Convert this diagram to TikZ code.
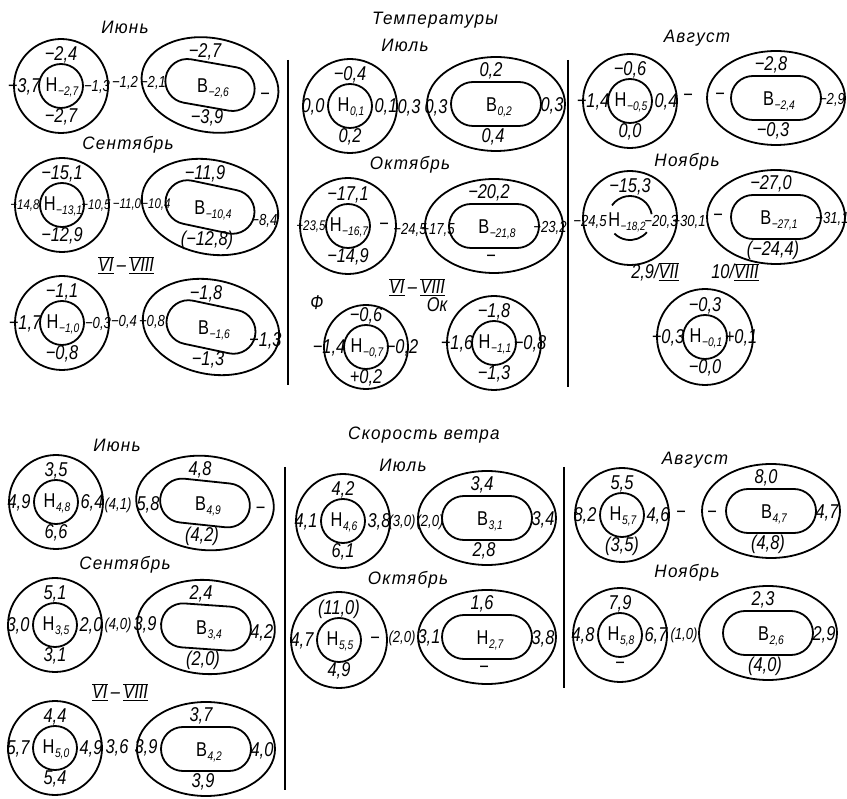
\documentclass[tikz,border=0pt]{standalone}
\usepackage{fontspec}
\setmainfont[FakeStretch=0.82]{Liberation Sans}
\newfontfamily\ttlfont[FakeStretch=0.95,LetterSpace=7]{Liberation Sans}
\usepackage{tikz}
\usetikzlibrary{positioning}

\newcommand{\lv}[2]{#1\kern0.5pt\raisebox{-4pt}{\fontsize{12.5}{12.5}\selectfont\itshape #2}}
\newcommand{\tight}[1]{{\fontsize{16}{16}\selectfont #1}}
\newcommand{\tighter}[1]{{\fontsize{14}{14}\selectfont #1}}
\newcommand{\romb}[1]{$\underline{\overline{\hbox{#1}}}$}

% name, x, y, top, left, sub, right, bottom, outer radius
\newcommand{\lowring}[9]{%
  \draw[ring] (#2,#3) circle[radius=#9];
  \draw[ring] (#2,#3) circle[radius=22];
  \node[lbl] (#1-t) at (#2,#3-31) {#4};
  \node[lbl] (#1-l) at (#2-37,#3+1) {#5};
  \node[lvl] (#1-c) at (#2+1,#3+1) {\lv{Н}{#6}};
  \node[lbl] (#1-r) at (#2+36,#3+1) {#7};
  \node[lbl] (#1-b) at (#2,#3+31) {#8};
}
% name, x, y, letter, sub, top, right, bottom, tilt
\newcommand{\highring}[9]{%
  \begin{scope}[rotate around={#9:(#2,#3)}]
    \draw[ring] (#2,#3) ellipse[x radius=69, y radius=47];
    \draw[ring,rounded corners=22pt] (#2-45,#3-22) rectangle (#2+45,#3+22);
    \node[lbl] (#1-r) at (#2+56,#3+2) {#7};
  \end{scope}
  \node[lbl] (#1-t) at (#2-5,#3-33) {#6};
  \node[lvl] (#1-c) at (#2+3,#3+3) {\lv{#4}{#5}};
  \node[lbl] (#1-b) at (#2-3,#3+33) {#8};
}

\begin{document}
\begin{tikzpicture}[x=1pt,y=-1pt,
  ring/.style={draw=black,line width=1.8pt},
  lbl/.style={font=\fontsize{20}{20}\selectfont\itshape,inner sep=0pt},
  ttl/.style={font=\fontsize{18}{18}\selectfont\ttlfont\itshape,inner sep=0pt},
  lvl/.style={font=\fontsize{20}{20}\selectfont,inner sep=0pt},
  sep/.style={draw=black,line width=1.4pt}
]
\useasboundingbox (0,0) rectangle (847,799);

% Температуры
\node[ttl] (ttl1) at (435,20) {Температуры};
\node[ttl] (tJun) at (125,27) {Июнь};
\node[ttl] (tJul) at (405,45) {Июль};
\node[ttl] (tAug) at (697,38) {Август};
\node[ttl] (tSep) at (128,145) {Сентябрь};
\node[ttl] (tOct) at (410,165) {Октябрь};
\node[ttl] (tNov) at (687,162) {Ноябрь};
\node[lbl] (tSum1) at (126,265) {\romb{VI}\,–\,\romb{VIII}};
\node[lbl] (tSum2) at (417,287) {\romb{VI}\,–\,\romb{VIII}};
\node[lbl] (tPhi) at (317,303) {Ф};
\node[lbl] (tOk) at (437,305) {Ок};
\node[lbl] (tDay1) at (655,272) {2,9/\romb{VII}};
\node[lbl] (tDay2) at (735,272) {10/\romb{VIII}};

\draw[sep] (288,60) -- (288,385);
\draw[sep] (568,60) -- (568,387);

\lowring{tJunN}{61}{86}{−2,4}{−3,7}{−2,7}{\tight{−1,3}}{−2,7}{47}
\highring{tJunB}{210}{85}{В}{−2,6}{−2,7}{−}{−3,9}{-10}
\node[lbl] (tJunM) at (125,83) {\tight{−1,2}};
\node[lbl] (tJunE) at (153,83) {\tight{−2,1}};

\lowring{tSepN}{62}{205}{−15,1}{\tighter{−14,8}}{−13,1}{\tighter{−10,5}\kern4pt}{−12,9}{47}
\highring{tSepB}{210}{207}{В}{−10,4}{−11,9}{\tight{−8,4}}{(−12,8)}{-12}
\node[lbl] (tSepM) at (127,205) {\tighter{−11,0}};
\node[lbl] (tSepE) at (156,205) {\tighter{−10,4}};

\lowring{tSumN}{62}{323}{−1,1}{−1,7}{−1,0}{\tight{−0,3}}{−0,8}{47}
\highring{tSumB}{211}{327}{В}{−1,6}{−1,8}{−1,3}{−1,3}{-12}
\node[lbl] (tSumM) at (124,322) {\tight{−0,4}};
\node[lbl] (tSumE) at (152,322) {\tight{−0,8}};

\lowring{tJulN}{350}{106}{−0,4}{0,0}{0,1}{0,1}{0,2}{47}
\highring{tJulB}{496}{104}{В}{0,2}{0,2}{0,3}{0,4}{0}
\node[lbl] (tJulM) at (409,108) {0,3};
\node[lbl] (tJulE) at (436,108) {0,3};

\lowring{tOctN}{348}{226}{−17,1}{\tighter{−23,5}}{−16,7}{−}{−14,9}{48}
\highring{tOctB}{494}{226}{В}{−21,8}{−20,2}{\tight{−23,2}}{−}{0}
\node[lbl] (tOctM) at (410,230) {\tight{−24,5}};
\node[lbl] (tOctE) at (438,230) {\tight{−17,5}};

\lowring{tPhiN}{366}{347}{−0,6}{−1,4}{−0,7}{−0,2}{+0,2}{42}
\lowring{tOkN}{494}{343}{−1,8}{−1,6}{−1,1}{−0,8}{−1,3}{47}

\lowring{tAugN}{630}{101}{−0,6}{−1,4}{−0,5}{0,4}{0,0}{47}
\highring{tAugB}{776}{98}{В}{−2,4}{−2,8}{\tight{−2,9}}{−0,3}{0}
\node[lbl] (tAugM) at (688,98) {−};
\node[lbl] (tAugE) at (720,97) {−};

\draw[ring] (630,218) circle[radius=47];
\draw[ring] (630,218) ++(215:22) arc[start angle=215,end angle=350,radius=22];
\draw[ring] (630,218) ++(40:22) arc[start angle=40,end angle=135,radius=22];
\node[lbl] (tNovN-t) at (630,187) {−15,3};
\node[lbl] (tNovN-l) at (590,222) {\tight{−24,5}};
\node[lvl] (tNovN-c) at (627,222) {Н\kern0.5pt\raisebox{-4pt}{\fontsize{12}{12}\selectfont\itshape −18,2}};
\node[lbl] (tNovN-r) at (661,222) {\tight{−20,3}};
\node[lbl] (tNovM) at (689,222) {\tight{−30,1}};
\node[lbl] (tNovE) at (718,218) {−};
\highring{tNovB}{776}{217}{В}{−27,1}{−27,0}{\tight{−31,1}}{(−24,4)}{0}

\lowring{tDayN}{705}{337}{−0,3}{−0,3}{−0,1}{+0,1}{−0,0}{48}

% Скорость ветра
\node[ttl] (ttl2) at (424,435) {Скорость ветра};
\node[ttl] (bJun) at (117,445) {Июнь};
\node[ttl] (bJul) at (403,465) {Июль};
\node[ttl] (bAug) at (695,460) {Август};
\node[ttl] (bSep) at (125,565) {Сентябрь};
\node[ttl] (bOct) at (408,580) {Октябрь};
\node[ttl] (bNov) at (687,573) {Ноябрь};
\node[lbl] (bSum) at (120,692) {\romb{VI}\,–\,\romb{VIII}};

\draw[sep] (285,467) -- (285,790);
\draw[sep] (564,467) -- (564,688);

\lowring{bJunN}{56}{502}{3,5}{4,9}{4,8}{6,4}{6,6}{47}
\highring{bJunB}{205}{503}{В}{4,9}{4,8}{−}{(4,2)}{-6}
\node[lbl] (bJunM) at (118,505) {\tight{(4,1)}};
\node[lbl] (bJunE) at (148,505) {5,8};

\lowring{bSepN}{55}{625}{5,1}{3,0}{3,5}{2,0}{3,1}{47}
\highring{bSepB}{206}{627}{В}{3,4}{2,4}{4,2}{(2,0)}{-4}
\node[lbl] (bSepM) at (118,625) {\tight{(4,0)}};
\node[lbl] (bSepE) at (145,625) {3,9};

\lowring{bSumN}{55}{748}{4,4}{5,7}{5,0}{4,9}{5,4}{47}
\highring{bSumB}{206}{749}{В}{4,2}{3,7}{4,0}{3,9}{0}
\node[lbl] (bSumM) at (117,748) {3,6};
\node[lbl] (bSumE) at (146,748) {3,9};

\lowring{bJulN}{343}{521}{4,2}{4,1}{4,6}{3,8}{6,1}{47}
\highring{bJulB}{487}{518}{В}{3,1}{3,4}{3,4}{2,8}{0}
\node[lbl] (bJulM) at (402,522) {\tight{(3,0)}};
\node[lbl] (bJulE) at (430,522) {\tight{(2,0)}};

\lowring{bOctN}{339}{640}{(11,0)}{4,7}{5,5}{−}{4,9}{48}
\highring{bOctB}{487}{637}{Н}{2,7}{1,6}{3,8}{−}{0}
\node[lbl] (bOctM) at (402,638) {\tight{(2,0)}};
\node[lbl] (bOctE) at (429,638) {3,1};

\lowring{bAugN}{622}{515}{5,5}{8,2}{5,7}{4,6}{(3,5)}{47}
\highring{bAugB}{771}{511}{В}{4,7}{8,0}{4,7}{(4,8)}{0}
\node[lbl] (bAugM) at (681,515) {−};
\node[lbl] (bAugE) at (712,515) {−};

\lowring{bNovN}{620}{635}{7,9}{4,8}{5,8}{6,7}{−}{47}
\highring{bNovB}{768}{633}{В}{2,6}{2,3}{2,9}{(4,0)}{0}
\node[lbl] (bNovM) at (684,635) {\tight{(1,0)}};
\end{tikzpicture}
\end{document}
